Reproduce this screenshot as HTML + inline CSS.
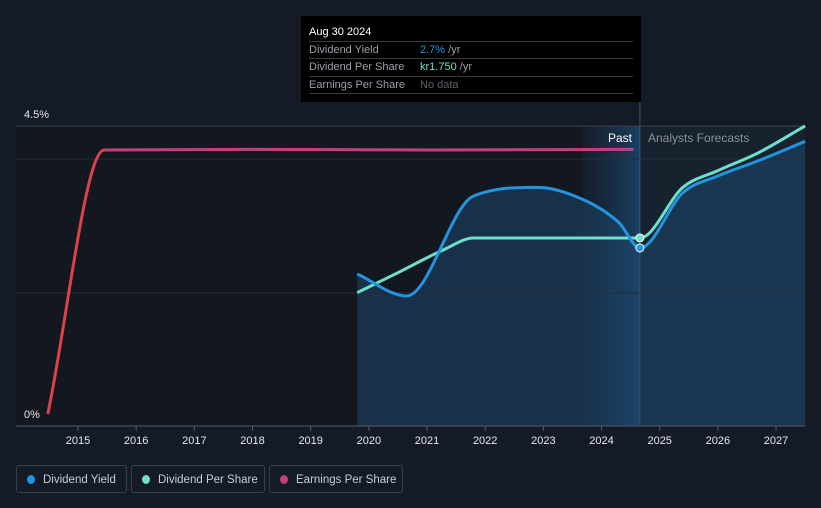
<!DOCTYPE html>
<html><head><meta charset="utf-8"><style>
body{margin:0;background:#151b26;font-family:"Liberation Sans",sans-serif;}
svg{display:block}
.lg{position:absolute;top:465px;height:28px;border:1px solid #3a404b;border-radius:3px;color:#c9cdd3;font-size:11.5px;line-height:28px;box-sizing:border-box;padding-left:26px}
.lg i{position:absolute;left:10px;top:9px;width:8px;height:9px;border-radius:50%}
</style></head><body>
<div style="position:relative;width:821px;height:508px;overflow:hidden">
<svg id="c" width="821" height="508"></svg>
<div class="lg" style="left:16px;width:111px"><i style="background:#2394e0"></i>Dividend Yield</div>
<div class="lg" style="left:131px;width:134px"><i style="background:#6de0cc"></i>Dividend Per Share</div>
<div class="lg" style="left:269px;width:134px"><i style="background:#c0407e"></i>Earnings Per Share</div>
</div>
<script>
const yearTicks=[2015,2016,2017,2018,2019,2020,2021,2022,2023,2024,2025,2026,2027];
const yieldX=[2019.8,2020.65,2021.8,2022.9,2023.7,2024.3,2024.66,2025.4,2026.0,2026.7,2027.5];
const yieldY=[2.28,1.95,3.45,3.58,3.39,3.05,2.67,3.5,3.75,3.98,4.27];
const dpsX=[2019.8,2020.5,2021.3,2021.8,2024.66,2025.4,2026.0,2026.7,2027.5];
const dpsY=[2.0,2.3,2.65,2.82,2.82,3.58,3.83,4.1,4.5];
const epsX=[2014.48,2015.45,2018,2021,2024.55];
const epsY=[0.18,4.14,4.15,4.14,4.15];
const X=v=>78+(v-2015)*58.17, Y=v=>426-v*66.67;
const svg=document.getElementById('c'),NS='http://www.w3.org/2000/svg';
function el(t,a,p){const e=document.createElementNS(NS,t);for(const k in a)e.setAttribute(k,a[k]);(p||svg).appendChild(e);return e;}
function path(xs,ys){const P=xs.map((x,i)=>[X(x),Y(ys[i])]),n=P.length;const d=[],m=[];
for(let i=0;i<n-1;i++)d.push((P[i+1][1]-P[i][1])/(P[i+1][0]-P[i][0]));
for(let i=0;i<n;i++){if(i==0)m.push(d[0]);else if(i==n-1)m.push(d[n-2]);else m.push(d[i-1]*d[i]<=0?0:(d[i-1]+d[i])/2);}
for(let i=0;i<n-1;i++){if(d[i]==0){m[i]=m[i+1]=0;continue;}const a=m[i]/d[i],b=m[i+1]/d[i],s=a*a+b*b;if(s>9){const t=3/Math.sqrt(s);m[i]=t*a*d[i];m[i+1]=t*b*d[i];}}
let s='M'+P[0];for(let i=0;i<n-1;i++){const h=(P[i+1][0]-P[i][0])/3;s+='C'+[P[i][0]+h,P[i][1]+m[i]*h]+' '+[P[i+1][0]-h,P[i+1][1]-m[i+1]*h]+' '+P[i+1];}return s;}
const defs=el('defs',{});
const g=el('linearGradient',{id:'pg',x1:0,x2:1,y1:0,y2:0},defs);
el('stop',{offset:0,'stop-color':'#1a3a58','stop-opacity':0.2},g);el('stop',{offset:1,'stop-color':'#1c4a72','stop-opacity':0.8},g);
let r=el('rect',{x:16,y:126,width:789,height:300,fill:'#131820'});
r=el('rect',{x:X(2024.66),y:126,width:805-X(2024.66),height:300,fill:'#17222f'});
let a=el('path',{d:path(yieldX,yieldY)+`L${X(yieldX[yieldX.length-1])},426L${X(yieldX[0])},426Z`,fill:'#1f4f7a','fill-opacity':0.45});
r=el('rect',{x:X(2023.67),y:126,width:X(2024.66)-X(2023.67),height:300,fill:'url(#pg)'});
[[126,'#3c424c'],[159,'#262d38'],[293,'#262d38']].forEach(([y,c])=>{const l=el('line',{x1:16,x2:805,y1:y,y2:y,stroke:c});});
let ax=el('line',{x1:16,x2:805,y1:426,y2:426,stroke:'#555b64'});
yearTicks.forEach(t=>{const l=el('line',{x1:X(t),x2:X(t),y1:426,y2:431,stroke:'#555b64'});
const tx=el('text',{x:X(t),y:444,fill:'#e6e8eb','font-size':11,'text-anchor':'middle'});tx.textContent=t;});
let t1=el('text',{x:24,y:118,fill:'#e6e8eb','font-size':11});t1.textContent='4.5%';
let t2=el('text',{x:24,y:418,fill:'#e6e8eb','font-size':11});t2.textContent='0%';
let vl=el('line',{x1:X(2024.66),x2:X(2024.66),y1:100,y2:426,stroke:'#2d5a80'});
let p1=el('text',{x:632,y:142,fill:'#ffffff','font-size':12,'text-anchor':'end'});p1.textContent='Past';
let p2=el('text',{x:648,y:142,fill:'#8a9099','font-size':12});p2.textContent='Analysts Forecasts';
const ep=path(epsX,epsY);
let e1=el('path',{d:ep,fill:'none',stroke:'#c0407e','stroke-width':3});
const cp=el('clipPath',{id:'rc'},defs);el('rect',{x:0,y:0,width:X(2015.45),height:508},cp);
let e2=el('path',{d:ep,fill:'none',stroke:'#e8403a','stroke-width':2.2,'clip-path':'url(#rc)'});
let dl=el('path',{d:path(dpsX,dpsY),fill:'none',stroke:'#6de0cc','stroke-width':3});
let yl=el('path',{d:path(yieldX,yieldY),fill:'none',stroke:'#2394e0','stroke-width':3});
let c1=el('circle',{cx:X(2024.66),cy:Y(dpsY[4]),r:4,fill:'#6de0cc',stroke:'#fff'});
let c2=el('circle',{cx:X(2024.66),cy:Y(yieldY[6]),r:4,fill:'#2394e0',stroke:'#fff'});
const tg=el('g',{});
el('rect',{x:301,y:16,width:340,height:86,fill:'#000'},tg);
const T=(x,y,s,c)=>{const t=el('text',{x,y,fill:c,'font-size':11},tg);t.textContent=s;return t;};
T(309,35,'Aug 30 2024','#fff');
[41,58,76,93].forEach(y=>el('line',{x1:309,x2:633,y1:y+0.5,y2:y+0.5,stroke:'#3a3a3a'},tg));
T(309,53,'Dividend Yield','#9aa0a8');T(309,70,'Dividend Per Share','#9aa0a8');T(309,88,'Earnings Per Share','#9aa0a8');
const a1=T(420,53,'2.7%','#2394e0');el('tspan',{fill:'#9aa0a8'},a1).textContent=' /yr';
const a2=T(420,70,'kr1.750','#6de0cc');el('tspan',{fill:'#9aa0a8'},a2).textContent=' /yr';
T(420,88,'No data','#5d636b');
</script>
</body></html>
